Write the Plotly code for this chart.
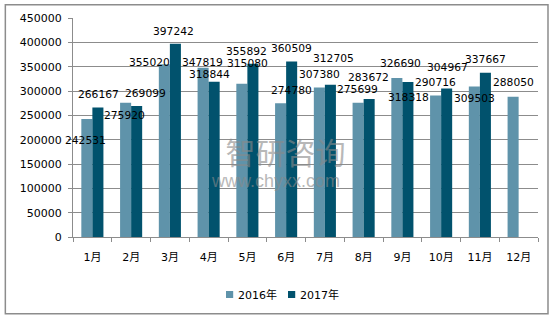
import plotly.graph_objects as go

months = ["1月", "2月", "3月", "4月", "5月", "6月", "7月", "8月", "9月", "10月", "11月", "12月"]
v2016 = [242531, 275920, 355020, 347819, 315080, 274780, 307380, 275699, 326690, 290716, 309503, 288050]
v2017 = [266167, 269099, 397242, 318844, 355892, 360509, 312705, 283672, 318318, 304967, 337667]
series_names = ["2016年", "2017年"]

# label offsets (pixels) relative to category centre / bar top
dx2016 = [-7, -7, -20, -6, 0, 5, -5, -6, -2, -6, -5, -5]
dy2016 = [-22, -13, 2, 5, 20, 13, 13, 13, 15, 13, -12, 14]
dx2017 = [6, 14, 4, 1, -1, 5, 9, 5, 6, 6, 6]
dy2017 = [13, 13, 12, 7, 12, 13, 26, 21, -15, 21, 13]

c16 = "#5f93aa"
c17 = "#01526d"
font = "DejaVu Sans, Noto Sans CJK SC, sans-serif"
lab_size = 10.7

fig = go.Figure()
fig.add_trace(go.Bar(x=months, y=v2016, name=series_names[0], marker_color=c16, marker_line_width=0))
fig.add_trace(go.Bar(x=months[:len(v2017)], y=v2017, name=series_names[1], marker_color=c17, marker_line_width=0))

ann = []
for m, v, dx, dy in zip(months, v2016, dx2016, dy2016):
    ann.append(dict(x=m, y=v, text=str(v), showarrow=False, xshift=dx, yshift=dy,
                    font=dict(size=lab_size, color="#000", family=font), xanchor="center", yanchor="middle"))
for m, v, dx, dy in zip(months, v2017, dx2017, dy2017):
    ann.append(dict(x=m, y=v, text=str(v), showarrow=False, xshift=dx, yshift=dy,
                    font=dict(size=lab_size, color="#000", family=font), xanchor="center", yanchor="middle"))

# watermark
ann.append(dict(xref="paper", yref="paper", x=0.293, y=0.35,
                text="<span style='font-size:30px;font-family:Noto Sans CJK SC'>&nbsp;&nbsp;智研咨询</span><br>"
                     "<span style='font-size:18px;font-family:Liberation Sans'>www.chyxx.com</span>",
                showarrow=False, align="left", xanchor="left", yanchor="middle", opacity=0.6,
                font=dict(size=18, color="#8a8a8a", family="Liberation Sans")))

# legend (drawn manually to match compact spacing)
leg_cols = [c16, c17]
leg_x = [0.329, 0.4624]
shapes = [dict(type="rect", xref="paper", yref="paper", x0=-0.1455, x1=1.0215, y0=-0.350, y1=1.0607,
               line=dict(color="#8c8c8c", width=1.5), layer="below")]
for name, col, lx in zip(series_names, leg_cols, leg_x):
    shapes.append(dict(type="rect", xref="paper", yref="paper", x0=lx, x1=lx + 0.0155,
                       y0=-0.2785, y1=-0.2466, fillcolor=col, line=dict(width=0)))
    ann.append(dict(xref="paper", yref="paper", x=lx + 0.021, y=-0.265, text=name, showarrow=False,
                    xanchor="left", yanchor="middle", font=dict(size=11, color="#000", family=font)))

fig.update_layout(
    width=557, height=321,
    margin=dict(l=73, r=19, t=18, b=84, autoexpand=False),
    paper_bgcolor="white", plot_bgcolor="white",
    barmode="group", bargap=0.43, bargroupgap=0,
    font=dict(family=font, size=11, color="#000"),
    showlegend=False,
    annotations=ann,
    shapes=shapes,
)
fig.update_yaxes(range=[0, 450000], dtick=50000, tickformat="d", showgrid=True, gridcolor="#8c8c8c",
                 gridwidth=1, showline=True, linecolor="#8c8c8c", ticks="outside", ticklen=4,
                 tickcolor="#8c8c8c", ticklabelstandoff=4, zeroline=False, fixedrange=True,
                 automargin=False)
fig.update_xaxes(range=[-0.5, 11.5], showline=True, linecolor="#8c8c8c", ticks="outside", ticklen=4,
                 tickcolor="#8c8c8c", tickson="boundaries", ticklabelstandoff=10, showgrid=False,
                 fixedrange=True, automargin=False)

fig.write_html("out.html")
